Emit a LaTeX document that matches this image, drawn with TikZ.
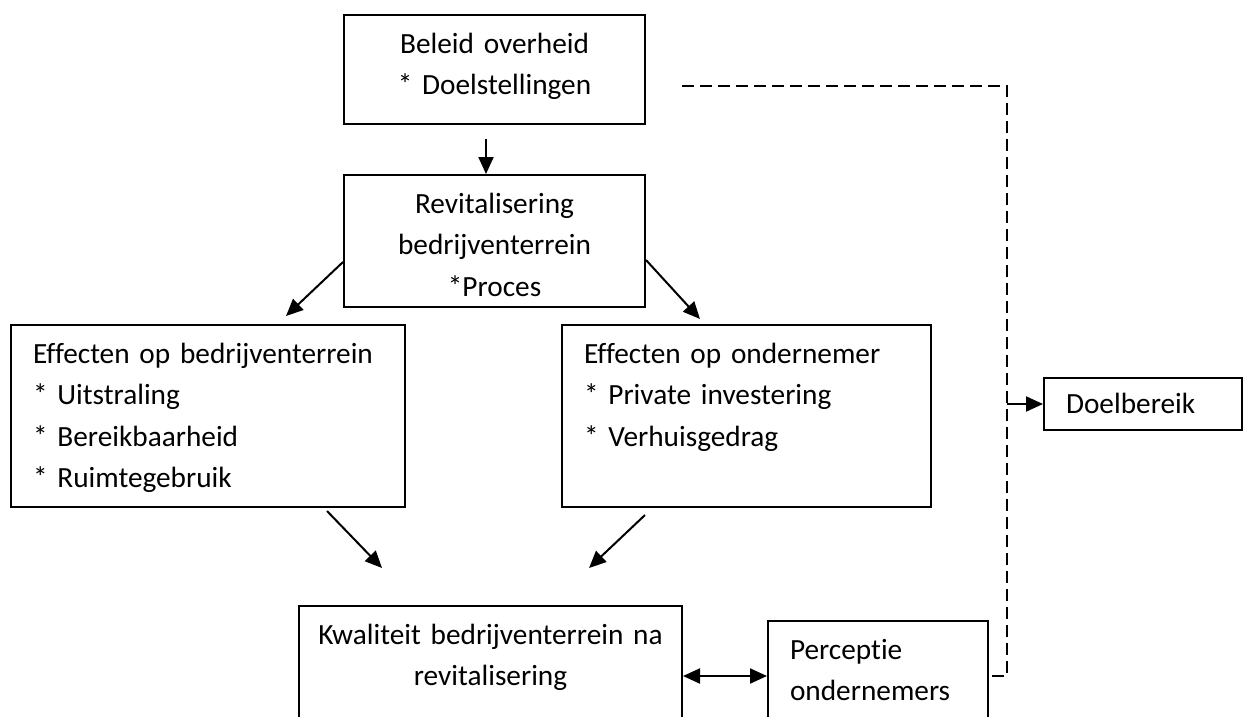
\documentclass[tikz,border=0pt]{standalone}
\usepackage{fontspec}
\setmainfont{Carlito}[Ligatures=NoCommon]
\usetikzlibrary{arrows.meta}

\begin{document}
\begin{tikzpicture}[x=1pt,y=-1pt,
  box/.style={draw,line width=2pt,anchor=north west,inner xsep=22pt,inner ysep=0pt,
    text height=38pt,font=\fontsize{29.3}{41.5}\selectfont},
  arrow/.style={line width=2pt,-{Triangle[length=17pt,width=15pt]}},
  both/.style={line width=2pt,{Triangle[length=17pt,width=15pt]}-{Triangle[length=17pt,width=15pt]}},
  dashline/.style={line width=1.8pt,dash pattern=on 12pt off 6pt}]
  \useasboundingbox (0,0) rectangle (1244,716);
  \clip (0,0) rectangle (1244,716);
  % boxes
  \node[box,inner xsep=5pt,text width=291pt,text depth=71pt,align=center] (beleid) at (343,14)
    {Beleid overheid\\{}* Doelstellingen};
  \node[box,inner xsep=5pt,text width=291pt,text depth=94pt,align=center] (revit) at (343,174)
    {Revitalisering\\bedrijventerrein\\{}*Proces};
  \node[box,text width=350pt,text depth=144pt,align=left] (effbed) at (10,324)
    {Effecten op bedrijventerrein\\{}* Uitstraling\\{}* Bereikbaarheid\\{}* Ruimtegebruik};
  \node[box,text width=325pt,text depth=144pt,align=left] (effond) at (561,324)
    {Effecten op ondernemer\\{}* Private investering\\{}* Verhuisgedrag};
  \node[box,inner xsep=5pt,text width=373pt,text depth=102pt,align=center] (kwal) at (298,605)
    {Kwaliteit bedrijventerrein na\\revitalisering};
  \node[box,text width=176pt,text depth=72pt,align=left] (percep) at (767,620)
    {Perceptie\\ondernemers};
  \node[box,text width=154pt,text height=35pt,text depth=17pt,align=left] (doel) at (1043,377)
    {Doelbereik};
  % arrows
  \draw[arrow] ([xshift=-8.5pt,yshift=-14pt]beleid.south) -- ([xshift=-8.5pt]revit.north);
  \draw[arrow] ([yshift=-21pt]revit.west) -- ([xshift=78pt,yshift=8pt]effbed.north);
  \draw[arrow] ([yshift=-19pt]revit.east) -- ([xshift=139pt,yshift=5pt]effond.north west);
  \draw[arrow] ([xshift=-79pt,yshift=-3pt]effbed.south east) -- ([xshift=84pt,yshift=37pt]kwal.north west);
  \draw[arrow] ([xshift=84pt,yshift=-7pt]effond.south west) -- ([xshift=-94pt,yshift=37pt]kwal.north east);
  \draw[both] (kwal.east) -- (percep.west);
  % dashed line to Doelbereik
  \coordinate (dstart) at ([xshift=36pt,yshift=-16.5pt]beleid.east);
  \draw[dashline] (dstart) -| ([xshift=18pt]percep.east) -- (percep.east);
  \draw[arrow] ([xshift=18pt]percep.east |- doel.west) -- (doel.west);
\end{tikzpicture}
\end{document}
